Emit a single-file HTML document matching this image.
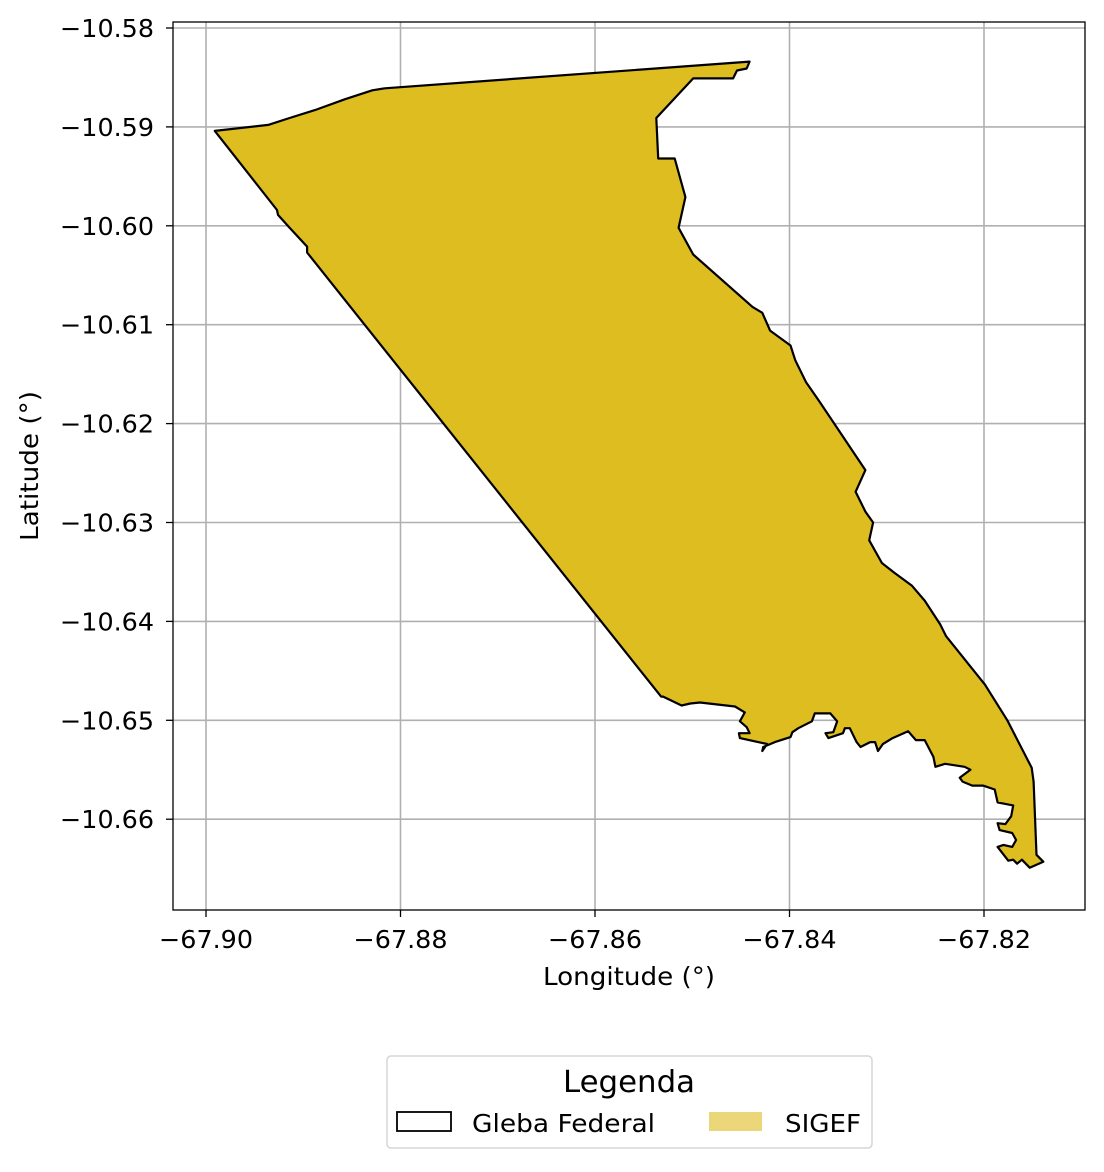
<!DOCTYPE html>
<html><head><meta charset="utf-8"><style>
body{margin:0;background:#fff;}
svg text{font-family:"DejaVu Sans","Liberation Sans",sans-serif;fill:#000;}
</style></head><body>
<svg id="chart" width="1104" height="1167" viewBox="0 0 1104 1167">
<g id="grid"></g>
<g id="shape"></g>
<rect x="173" y="22" width="912" height="888" fill="none" stroke="#000" stroke-width="1.3"/>
<g id="xticks"></g>
<g id="yticks"></g>
<text x="629" y="985" font-size="25" text-anchor="middle" textLength="172" lengthAdjust="spacingAndGlyphs">Longitude (°)</text>
<text transform="translate(38,466) rotate(-90)" font-size="25" text-anchor="middle" textLength="150" lengthAdjust="spacingAndGlyphs">Latitude (°)</text>
<g>
<rect x="387" y="1056" width="485" height="92" rx="4" fill="#fff" stroke="#d5d5d5" stroke-width="1.5"/>
<text x="629" y="1092" font-size="30" text-anchor="middle" textLength="132" lengthAdjust="spacingAndGlyphs">Legenda</text>
<rect x="397" y="1112" width="54" height="19" fill="none" stroke="#000" stroke-width="1.8"/>
<text x="472" y="1132" font-size="25" textLength="183" lengthAdjust="spacingAndGlyphs">Gleba Federal</text>
<rect x="709" y="1112" width="53" height="19" fill="#ebd67a"/>
<text x="785" y="1132" font-size="25" textLength="76" lengthAdjust="spacingAndGlyphs">SIGEF</text>
</g>
</svg>
<script>
const lonTicks=[-67.90,-67.88,-67.86,-67.84,-67.82];
const latTicks=[-10.58,-10.59,-10.60,-10.61,-10.62,-10.63,-10.64,-10.65,-10.66];
const lons=[-67.8991,-67.8936,-67.8914,-67.8888,-67.8857,-67.8829,-67.8816,-67.8441,-67.8444,-67.8454,-67.8458,-67.8499,-67.8537,-67.8535,-67.8518,-67.8507,-67.8514,-67.8499,-67.8438,-67.8428,-67.8420,-67.8399,-67.8394,-67.8383,-67.8369,-67.8322,-67.8332,-67.8322,-67.8314,-67.8318,-67.8305,-67.8292,-67.8274,-67.8261,-67.8245,-67.8239,-67.8199,-67.8176,-67.8151,-67.8149,-67.8146,-67.8139,-67.8153,-67.8161,-67.8166,-67.8170,-67.8175,-67.8186,-67.8180,-67.8171,-67.8167,-67.8171,-67.8184,-67.8186,-67.8178,-67.8172,-67.8170,-67.8186,-67.8189,-67.8201,-67.8212,-67.8222,-67.8225,-67.8214,-67.8220,-67.8240,-67.8250,-67.8252,-67.8261,-67.8270,-67.8278,-67.8294,-67.8304,-67.8309,-67.8312,-67.8317,-67.8327,-67.8331,-67.8338,-67.8343,-67.8345,-67.8360,-67.8363,-67.8355,-67.8351,-67.8358,-67.8374,-67.8377,-67.8391,-67.8397,-67.8399,-67.8415,-67.8427,-67.8428,-67.8423,-67.8451,-67.8452,-67.8441,-67.8444,-67.8451,-67.8446,-67.8456,-67.8492,-67.8502,-67.8511,-67.8530,-67.8532,-67.8896,-67.8896,-67.8914,-67.8926,-67.8927];
const lats=[-10.5904,-10.5898,-10.5891,-10.5883,-10.5872,-10.5863,-10.5861,-10.5834,-10.5841,-10.5843,-10.5851,-10.5851,-10.5891,-10.5932,-10.5932,-10.5971,-10.6002,-10.6029,-10.6082,-10.6088,-10.6106,-10.6121,-10.6136,-10.6158,-10.6178,-10.6247,-10.6269,-10.6289,-10.6300,-10.6318,-10.6341,-10.6351,-10.6364,-10.6379,-10.6403,-10.6415,-10.6464,-10.6500,-10.6548,-10.6562,-10.6636,-10.6643,-10.6649,-10.6641,-10.6645,-10.6641,-10.6642,-10.6628,-10.6626,-10.6628,-10.6621,-10.6614,-10.6611,-10.6604,-10.6605,-10.6597,-10.6586,-10.6583,-10.6570,-10.6566,-10.6566,-10.6562,-10.6558,-10.6550,-10.6547,-10.6544,-10.6547,-10.6537,-10.6520,-10.6520,-10.6511,-10.6518,-10.6524,-10.6531,-10.6522,-10.6522,-10.6527,-10.6522,-10.6508,-10.6508,-10.6513,-10.6518,-10.6513,-10.6512,-10.6501,-10.6493,-10.6493,-10.6501,-10.6508,-10.6512,-10.6517,-10.6522,-10.6527,-10.6531,-10.6524,-10.6518,-10.6513,-10.6513,-10.6507,-10.6501,-10.6492,-10.6486,-10.6482,-10.6483,-10.6485,-10.6476,-10.6476,-10.6027,-10.6021,-10.6002,-10.5989,-10.5984];
const NS='http://www.w3.org/2000/svg';
function xs(v){return 206+(v+67.90)/0.02*194.5;}
function ys(v){return 28+(-10.58-v)/0.01*98.9;}
const grid=document.getElementById('grid'),xt=document.getElementById('xticks'),yt=document.getElementById('yticks');
function mk(tag,attrs,parent){const e=document.createElementNS(NS,tag);for(const k in attrs)e.setAttribute(k,attrs[k]);parent.appendChild(e);return e;}
lonTicks.forEach(v=>{const x=xs(v);
 const g=mk('line',{x1:x,x2:x,y1:22,y2:910,stroke:'#b0b0b0','stroke-width':1.6},grid);
 
 
 const t=mk('line',{x1:x,x2:x,y1:910,y2:917,stroke:'#000','stroke-width':1.3},xt);
 
 
 const l=mk('text',{x:x,y:948,'font-size':25,'text-anchor':'middle',textLength:94,lengthAdjust:'spacingAndGlyphs'},xt);
 l.textContent='\u2212'+Math.abs(v).toFixed(2);
 
 
});
latTicks.forEach(v=>{const y=ys(v);
 const g=mk('line',{x1:173,x2:1085,y1:y,y2:y,stroke:'#b0b0b0','stroke-width':1.6},grid);
 
 
 const t=mk('line',{x1:166,x2:173,y1:y,y2:y,stroke:'#000','stroke-width':1.3},yt);
 
 
 const l=mk('text',{x:154,y:y+9,'font-size':25,'text-anchor':'end',textLength:94,lengthAdjust:'spacingAndGlyphs'},yt);
 l.textContent='\u2212'+Math.abs(v).toFixed(2);
 
 
});
const pts=lons.map((v,i)=>xs(v).toFixed(1)+','+ys(lats[i]).toFixed(1)).join(' ');
const poly=mk('polygon',{points:pts,fill:'#debd20',stroke:'#000','stroke-width':2.2,'stroke-linejoin':'round'},document.getElementById('shape'));


</script>
</body></html>
